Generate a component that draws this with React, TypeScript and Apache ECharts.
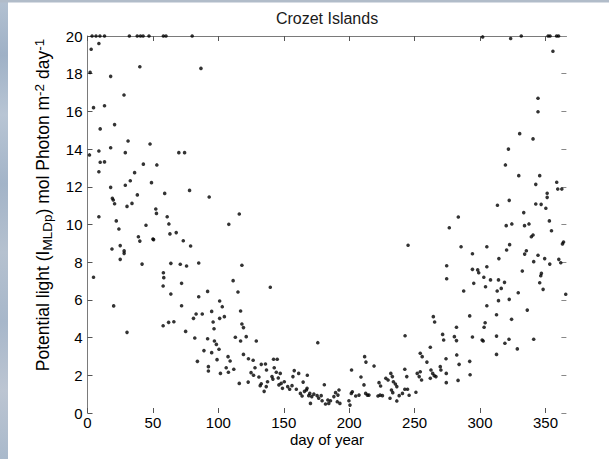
import React, { useEffect, useRef } from "react";
import * as echarts from "echarts";

// day of year for each observation
const days: number[] = [
  3.5, 6.5, 9.5, 13, 32, 38, 40.5, 42.5, 47, 58, 60, 80,
  302, 323.4, 331.5, 352, 353.5, 358.5, 360,
  2.8, 8.7, 2, 17.7, 40, 86.7, 4.6, 13, 27.9, 9.7, 20.7, 31, 47.8, 17.7, 1.5, 8.7, 28.9, 69.8, 74.2,
  9.7, 13, 42.7, 53, 8.7, 36, 32.7, 28.9, 48.9, 17.7, 59, 38.1, 78, 93, 19.7, 19, 20.7, 30.2, 34,
  52.2, 52.7, 60.9, 116, 8.7, 22, 24, 44.7, 62.2, 108,
  4.6, 18.7, 25, 25, 28, 28, 20, 30.2, 38.9, 40, 41.7, 50, 50.5, 63, 67.8, 63.7, 58, 58.3, 57.8,
  63.7, 57.8, 62, 66, 70.9, 71.9, 73.2, 78.8, 75.7, 85, 71.9, 75, 85, 91.8, 81, 83, 87.7, 94.9,
  101, 103, 96, 96.7, 101, 104.6, 82, 91.8, 97, 98.5, 89, 94.9, 100.5, 107.4, 109, 99, 84, 92.4,
  92.4, 101.6, 106, 107.7, 111.8, 111.3, 115, 118, 117, 118, 119.2, 113, 117, 121.3, 119.2, 123,
  126.6, 129, 116, 122.8, 125, 126.9, 128, 131, 132, 132.8, 135, 136.6, 132.8, 136, 136.8, 137.6,
  139.7, 141, 141.7, 142.2, 145, 142.7, 144.3, 145.8, 147.3, 148, 146.3, 149, 150.4, 153, 154.5,
  156.3, 158, 161.4, 157, 159.6, 162.7, 164, 165.8, 164.8, 168, 167.8, 169.9, 171.4, 170.4, 173,
  175.5, 176.7, 176, 179.3, 181, 181.9, 183.7, 167.3, 169.1, 178.6,
  184.4, 185.7, 188.3, 189.6, 191.4, 192.2, 190.9, 192.9, 199.8, 200.6, 201.6, 202.4, 201.8, 205,
  207.5, 209, 211.8, 212.8, 211.3, 212.6, 213.9, 215.1, 219, 222, 223.6, 225.4, 222.8, 224, 228,
  229.7, 231.8, 233, 233.8, 235.3, 236.4, 232.3, 233.3, 231.2, 236.4, 238.2, 240.7, 242.5, 244.6,
  245.8, 251, 242.5, 244, 242.7, 245, 252, 253.5, 254.3, 255.3, 254.3, 255.8, 259.4, 262, 262.5,
  263.8, 265, 266.3, 262, 264.3, 265.3, 269.6, 270.1, 271.4, 272.2, 274, 274.2, 274.2, 274.5,
  274.5, 280.4, 282, 282, 282.2, 284, 283.2, 285.5, 287.5, 292.1, 292.1, 292.4, 294.2, 294.2,
  294.2, 295.2, 298.2, 299, 301.6, 302.4, 302.9, 303.1, 303.9, 304.2, 305.2, 305.2, 305.2, 308,
  312.6, 312.6, 312.6, 313.1, 314.1, 314.1, 314.4, 316.2, 318.7, 319, 322.1, 320.3, 322.6, 322.3,
  324.1, 328.5, 329.2, 332.3, 334.1, 335.4, 336.1, 339.2, 340.5, 341, 341, 344.3, 345.6, 346.4,
  346.9, 348.2, 349.4, 353.3, 354.6, 360.2, 361.7, 363, 363.8, 365.5,
  355.7, 344.3, 344.3, 330.3, 340.5, 321.7, 319.4, 329.6, 345.6, 342.6, 358.6, 359.4, 362.5,
  351.3, 351.3, 313.3, 322.3, 342.6, 346.7, 350.3, 333.4, 283.4, 276.5, 320, 324.3, 334, 337.4, 353
];

// potential light I_MLDp (mol photon m-2 day-1)
const light: number[] = [
  20, 20, 20, 20, 20, 20, 20, 20, 20, 20, 20, 20,
  19.95, 19.87, 20, 20, 20, 20, 20,
  19.3, 19.6, 18.07, 17.86, 18.37, 18.28, 16.2, 16.3, 16.87, 15.07, 15.3, 14.43, 14.27, 14.07, 13.69, 13.9, 13.81, 13.81, 13.81,
  13.3, 13.32, 13.2, 13.16, 12.8, 12.75, 12.32, 12.08, 12.22, 11.97, 11.65, 11.57, 11.81, 11.46, 11.3, 11.39, 11.1, 10.96, 11.12,
  10.82, 10.59, 10.41, 10.56, 10.41, 10.19, 9.76, 9.96, 10.03, 10.01,
  7.2, 8.7, 8.88, 8.15, 8.6, 8.47, 5.68, 4.28, 9.35, 9.12, 7.9, 9.23, 9.2, 9.5, 9.57, 7.94, 7.44, 7.18, 6.74,
  6.31, 4.63, 4.81, 4.84, 7.89, 6.88, 9.14, 8.86, 7.8, 7.96, 5.69, 4.33, 6.17, 6.45, 5.02, 5.25, 5.25, 5.39,
  5.94, 5.64, 4.83, 4.47, 5.02, 5.11, 3.98, 3.94, 3.82, 3.64, 3.31, 3.2, 3.38, 2.99, 2.76, 2.83, 2.74, 2.46,
  2.23, 2.1, 2.4, 2.16, 2.32, 7.02, 6.42, 7.84, 5.41, 4.72, 4.53, 4.02, 3.82, 4.05, 3.11, 2.88,
  2.8, 3.82, 1.57, 1.64, 2.14, 2.0, 2.4, 1.91, 1.45, 1.55, 1.15, 1.4, 2.58, 2.6, 2.28, 1.66,
  6.67, 1.93, 1.8, 2.85, 2.85, 2.4, 2.16, 1.86, 2.1, 1.57, 1.49, 1.31, 1.66, 1.4, 1.26,
  1.45, 2.25, 2.1, 1.93, 1.26, 1.04, 0.9, 1.15, 1.64, 2.0, 1.31, 1.04, 0.87, 0.51, 1.0,
  0.92, 0.78, 3.73, 0.65, 1.5, 0.48, 0.69, 1.22, 0.92, 0.92,
  0.51, 0.65, 0.87, 1.08, 0.95, 1.22, 0.6, 0.51, 0.65, 0.42, 1.04, 1.13, 2.28, 0.9,
  0.95, 1.91, 2.99, 2.7, 1.49, 1.04, 0.95, 0.95, 2.49, 0.9, 0.95, 0.92, 1.61, 1.43, 1.84,
  1.75, 2.1, 1.93, 1.66, 1.54, 1.4, 1.22, 1.08, 0.78, 0.64, 0.92, 1.04, 1.26, 1.26,
  0.94, 1.1, 2.32, 1.93, 4.1, 8.9, 2.1, 1.93, 2.19, 1.75, 3.17, 2.99, 2.7, 3.49, 2.28,
  2.1, 1.98, 1.93, 1.84, 5.11, 4.83, 2.46, 2.28, 4.17, 3.87, 2.88, 2.1, 1.61, 7.81,
  7.12, 4.05, 3.84, 4.55, 3.08, 2.58, 1.73, 8.82, 6.47, 5.15, 2.74, 2.03, 8.45, 7.62,
  4.03, 6.88, 7.59, 7.44, 3.87, 3.82, 7.2, 4.55, 4.79, 6.7, 8.82, 7.76, 5.69, 7.06,
  3.11, 4.08, 5.21, 6.47, 7.06, 5.96, 8.19, 6.61, 6.93, 3.7, 3.91, 8.65, 8.93, 6.03,
  4.97, 3.4, 6.38, 7.53, 8.43, 8.61, 5.46, 9.35, 9.44, 3.91, 8.03, 8.37, 6.91, 7.28,
  7.41, 6.56, 8.19, 7.9, 9.67, 8.15, 7.97, 8.97, 9.07, 6.3,
  19.19, 16.7, 15.98, 14.82, 14.54, 14.0, 13.16, 12.59, 12.59, 12.13, 12.24, 11.88, 11.88,
  11.66, 11.44, 11.02, 11.28, 11.09, 11.07, 10.86, 10.63, 10.4, 9.83, 9.94, 10.03, 9.94, 10.03, 10.19
];

const xTicks: number[] = [0, 50, 100, 150, 200, 250, 300, 350];
const yTicks: number[] = [0, 2, 4, 6, 8, 10, 12, 14, 16, 18, 20];

const titleText = "Crozet Islands";
const xName = "day of year";

const FONT = "'Liberation Sans', Arial, Helvetica, sans-serif";

export default function App() {
  const ref = useRef<HTMLDivElement>(null);
  useEffect(() => {
    if (!ref.current) return;
    const chart = echarts.init(ref.current, null, { renderer: "svg" });
    const data = days.map((d, i) => [d, light[i]]);
    const tickStyle = { color: "#555", width: 1 };
    chart.setOption({
      animation: false,
      backgroundColor: "#ffffff",
      grid: {
        left: 87.5,
        right: 42.6,
        top: 36,
        bottom: 46,
        containLabel: false,
        outerBoundsMode: "none",
      },
      xAxis: [
        {
          type: "value",
          position: "bottom",
          min: 0,
          max: 366,
          interval: 50,
          axisLine: { show: false, onZero: false },
          axisTick: { show: true, inside: true, length: 5, lineStyle: tickStyle, customValues: xTicks },
          axisLabel: { show: true, customValues: xTicks, fontSize: 15, color: "#000", margin: 2, fontFamily: FONT },
          splitLine: { show: false },
        },
        {
          type: "value",
          position: "top",
          min: 0,
          max: 366,
          interval: 50,
          axisLine: { show: true, onZero: false, lineStyle: { color: "#7a7a7a", width: 1 } },
          axisTick: { show: true, inside: true, length: 5, lineStyle: tickStyle, customValues: xTicks },
          axisLabel: { show: false },
          splitLine: { show: false },
        },
      ],
      yAxis: [
        {
          type: "value",
          position: "left",
          min: 0,
          max: 20,
          interval: 2,
          axisLine: { show: true, onZero: false, lineStyle: { color: "#7a7a7a", width: 1 } },
          axisTick: { show: true, inside: true, length: 5, lineStyle: tickStyle, customValues: yTicks },
          axisLabel: { show: true, customValues: yTicks, fontSize: 15, color: "#000", margin: 5, fontFamily: FONT },
          splitLine: { show: false },
        },
        {
          type: "value",
          position: "right",
          min: 0,
          max: 20,
          interval: 2,
          axisLine: { show: false, onZero: false },
          axisTick: { show: true, inside: true, length: 5, lineStyle: { color: "#888", width: 1 }, customValues: yTicks },
          axisLabel: { show: false },
          splitLine: { show: false },
        },
      ],
      series: [
        {
          type: "scatter",
          xAxisIndex: 0,
          yAxisIndex: 0,
          data,
          symbol: "circle",
          symbolSize: 3.6,
          clip: false,
          itemStyle: { color: "#000" },
          z: 5,
        },
      ],
      graphic: [
        {
          type: "rect",
          shape: { x: 0, y: 0, width: 8, height: 459 },
          style: {
            fill: {
              type: "linear",
              x: 0, y: 0, x2: 0, y2: 1,
              colorStops: [
                { offset: 0, color: "#b3c1d1" },
                { offset: 0.12, color: "#9fb1c6" },
                { offset: 0.25, color: "#b8c5d4" },
                { offset: 0.4, color: "#a3b4c8" },
                { offset: 0.55, color: "#b5c1cf" },
                { offset: 0.7, color: "#a7b7ca" },
                { offset: 0.85, color: "#bcc5d2" },
                { offset: 1, color: "#a9b9cb" },
              ],
            },
          },
          z: 0,
        },
        {
          type: "rect",
          shape: { x: 0, y: 0, width: 609, height: 2.5 },
          style: { fill: "#b1bcc9" },
          z: 0,
        },
        {
          type: "text",
          x: 327,
          y: 18,
          style: {
            text: titleText,
            fill: "#1a1a1a",
            font: `16px ${FONT}`,
            align: "center",
            verticalAlign: "middle",
          },
        },
        {
          type: "text",
          x: 327,
          y: 439,
          style: {
            text: xName,
            fill: "#000",
            font: `15px ${FONT}`,
            align: "center",
            verticalAlign: "middle",
          },
        },
        {
          type: "text",
          x: 43,
          y: 205,
          rotation: Math.PI / 2,
          style: {
            text: "{n|Potential light (I}{sub|MLDp}{n|) mol Photon m}{sup|-2}{n| day}{sup|-1}",
            align: "center",
            verticalAlign: "middle",
            fill: "#000",
            rich: {
              n: { fontSize: 17.5, fontFamily: FONT, lineHeight: 22, verticalAlign: "middle", fill: "#000" },
              sub: { fontSize: 13.5, fontFamily: FONT, lineHeight: 13.5, verticalAlign: "bottom", fill: "#000" },
              sup: { fontSize: 13.5, fontFamily: FONT, lineHeight: 13.5, verticalAlign: "top", fill: "#000" },
            },
          },
        },
      ],
    });
    return () => chart.dispose();
  }, []);
  return (
    <div
      ref={ref}
      style={{ position: "fixed", left: 0, top: 0, width: 609, height: 459, background: "#fff" }}
    />
  );
}
